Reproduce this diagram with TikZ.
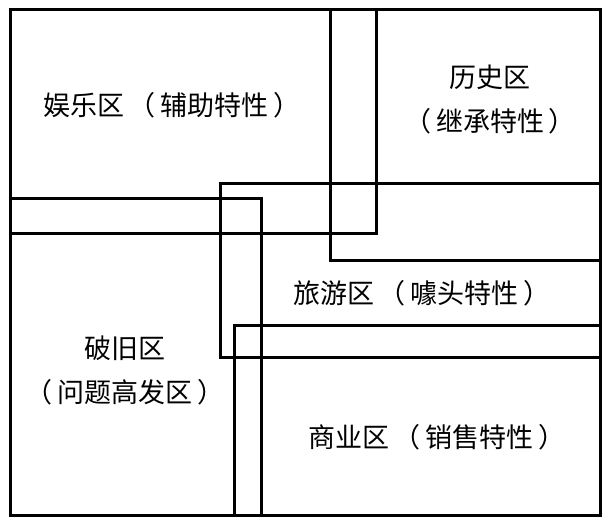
\documentclass[tikz,border=0pt]{standalone}
\usepackage{fontspec}
\newfontfamily\cjk{Noto Sans CJK SC}
\newcommand{\lp}{\hspace{4pt}（\hspace{5pt}}
\newcommand{\rp}{\hspace{5pt}）}
\begin{document}
\begin{tikzpicture}[x=1pt,y=-1pt,
  zone/.style={draw=black,line width=3pt},
  lbl/.style={font=\cjk\fontsize{27}{44}\selectfont,align=center,inner sep=0pt}]
\useasboundingbox (0,0) rectangle (609,524);
\draw[zone] (10,10) rectangle (600,515);
\draw[zone] (10,10) rectangle (376,233);
\draw[zone] (330,10) rectangle (600,260);
\draw[zone] (220,183) rectangle (600,357);
\draw[zone] (10,198) rectangle (261,515);
\draw[zone] (234,325) rectangle (600,515);
\node[lbl] (yl) at (172,105) {娱乐区\lp 辅助特性\rp};
\node[lbl] (ls) at (490,100) {历史区\\（\hspace{5pt}继承特性\rp};
\node[lbl] (ly) at (422,293) {旅游区\lp 噱头特性\rp};
\node[lbl] (pj) at (125,370) {破旧区\\（\hspace{5pt}问题高发区\rp};
\node[lbl] (sy) at (437,437) {商业区\lp 销售特性\rp};
\end{tikzpicture}
\end{document}
